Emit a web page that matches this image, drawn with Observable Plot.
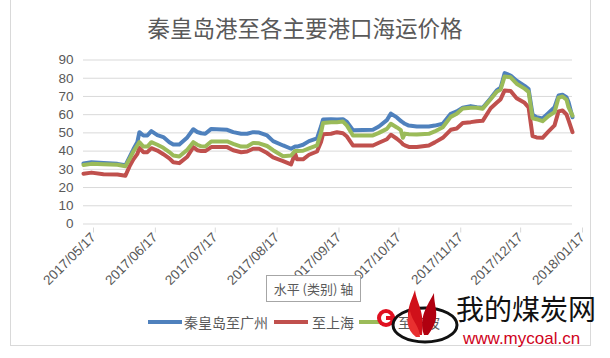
<!DOCTYPE html>
<html>
<head>
<meta charset="utf-8">
<script src="https://cdn.jsdelivr.net/npm/d3@7"></script>
<script src="https://cdn.jsdelivr.net/npm/@observablehq/plot@0.6"></script>
<style>
  html, body { margin: 0; padding: 0; background: #fff; }
  #wrap { position: relative; width: 610px; height: 358px; overflow: hidden; background: #fff;
          font-family: "Liberation Sans", Arial, "Noto Sans CJK SC", sans-serif; }
  #frame { position: absolute; left: 10px; top: -1px; width: 579px; height: 345px; border: 1px solid #d9d9d9; }
  #title { position: absolute; left: 10px; width: 590px; top: 12px; text-align: center;
           font-family: "Noto Sans CJK SC", sans-serif; font-size: 22.5px; color: #595959; line-height: 30px; }
  #plot { position: absolute; left: 0; top: 0; }
  .leg { position: absolute; top: 313px; height: 18px; font-family: "Noto Sans CJK SC", sans-serif;
         font-size: 14px; color: #595959; line-height: 18px; white-space: nowrap; }
  .sw { position: absolute; height: 4px; top: 320px; }
  #tip { position: absolute; left: 266px; top: 275px; width: 93px; height: 25px; border: 1px solid #a6a6a6;
         background: #fff; font-family: "Noto Sans CJK SC", sans-serif; font-size: 13px; color: #595959;
         text-align: center; line-height: 25px; }
  #wm1 { position: absolute; left: 456px; top: 294px; font-family: "Noto Sans CJK SC", sans-serif;
         font-size: 28px; color: #111; line-height: 28px; height: 28px; white-space: nowrap; }
  #wm2 { position: absolute; left: 463px; top: 331px; font-family: "Liberation Sans", Arial, sans-serif;
         font-size: 17px; color: #d0021b; line-height: 15px; height: 15px; white-space: nowrap; }
  #logo { position: absolute; left: 370px; top: 285px; }
</style>
</head>
<body>
<div id="wrap">
  <div id="frame"></div>
  <div id="title"></div>
  <div id="plot"></div>
  <div id="legend"></div>
  <div id="tip">水平 (类别) 轴</div>
  <svg id="logo" width="90" height="65" viewBox="0 0 90 65">
    <circle cx="16" cy="33" r="9" fill="#e01020"/>
    <circle cx="16" cy="33" r="5" fill="#fff"/>
    <rect x="16" y="31" width="9" height="4" fill="#e01020"/>
    <ellipse cx="55" cy="40" rx="32" ry="17" fill="none" stroke="#111" stroke-width="3"/>
    <path d="M50 50 C30 35 40 20 45 5 C47 20 55 25 52 50 Z" fill="#d0101a"/>
    <path d="M54 50 C48 32 58 20 64 8 C64 24 72 32 58 50 Z" fill="#b00010"/>
    <path d="M46 52 C36 44 36 34 40 26 C42 36 50 42 50 52 Z" fill="#e83030"/>
  </svg>
  <div id="wm1">我的煤炭网</div>
  <div id="wm2">www.mycoal.cn</div>
</div>
<script>
const titleText = "秦皇岛港至各主要港口海运价格";
const seriesNames = ["秦皇岛至广州", "至上海", "至宁波"];
const seriesColors = ["#4F81BD", "#C0504D", "#9BBB59"];
const tickLabels = ["2017/05/17","2017/06/17","2017/07/17","2017/08/17","2017/09/17","2017/10/17","2017/11/17","2017/12/17","2018/01/17"];
const yTicks = [0,10,20,30,40,50,60,70,80,90];

const dates = ["2017-05-17","2017-05-21","2017-05-27","2017-06-03","2017-06-07","2017-06-09","2017-06-11","2017-06-13","2017-06-14","2017-06-16",
"2017-06-18","2017-06-20","2017-06-23","2017-06-26","2017-06-29","2017-07-01","2017-07-04","2017-07-08","2017-07-11","2017-07-13",
"2017-07-15","2017-07-17","2017-07-20","2017-07-28","2017-07-31","2017-08-04","2017-08-07","2017-08-10","2017-08-13","2017-08-17",
"2017-08-20","2017-08-25","2017-08-29","2017-08-31","2017-09-01","2017-09-04","2017-09-07","2017-09-11","2017-09-13","2017-09-14",
"2017-09-18","2017-09-21","2017-09-24","2017-09-26","2017-09-29","2017-10-09","2017-10-12","2017-10-16","2017-10-18","2017-10-21",
"2017-10-23","2017-10-24","2017-10-25","2017-10-27","2017-10-31","2017-11-06","2017-11-09","2017-11-13","2017-11-17","2017-11-20",
"2017-11-23","2017-11-27","2017-11-30","2017-12-03","2017-12-07","2017-12-10","2017-12-12","2017-12-14","2017-12-17","2017-12-20",
"2017-12-24","2017-12-26","2017-12-28","2017-12-30","2018-01-02","2018-01-05","2018-01-08","2018-01-10","2018-01-12","2018-01-14",
"2018-01-15","2018-01-17"];

const guangzhou = [33.2,33.9,33.5,33.0,32.2,36.5,41.0,45.0,50.4,48.6,
48.6,51.0,48.8,47.7,44.9,43.6,43.6,47.5,52.0,50.5,
49.8,49.5,52.2,51.7,50.4,49.5,49.5,50.4,50.2,48.6,
45.5,43.1,41.3,42.5,42.5,43.5,45.5,47.0,53.5,57.3,
57.5,57.3,57.5,56.0,51.5,51.7,53.5,57.0,60.6,58.5,
56.5,55.8,55.0,54.0,53.5,53.5,54.0,55.0,60.5,61.8,
63.8,64.7,64.1,63.8,69.0,73.3,74.8,82.8,81.5,78.6,
75.8,74.0,60.0,58.6,57.9,61.0,64.1,70.5,70.9,69.6,
67.0,58.6];

const shanghai = [27.6,28.2,27.3,27.2,26.5,31.5,35.5,38.5,41.8,39.4,
39.4,41.6,40.3,38.3,36.0,33.9,33.4,36.9,42.2,40.5,
40.0,40.0,42.2,42.2,40.5,39.4,39.8,41.3,41.3,38.9,
36.5,34.5,32.7,38.7,35.5,35.5,38.0,39.8,45.0,49.3,
49.5,50.4,49.8,48.0,43.1,43.1,44.6,46.5,49.0,46.8,
45.0,43.8,43.2,42.3,42.2,43.1,44.8,47.3,51.7,52.4,
55.4,55.9,56.4,56.6,63.5,66.5,68.5,73.3,73.0,69.0,
66.5,64.0,48.2,47.5,47.3,50.8,54.1,61.8,62.3,60.1,
57.0,50.4];

const ningbo = [32.4,33.0,32.8,32.5,31.7,35.5,39.8,43.2,44.9,42.5,
42.5,44.9,43.5,41.8,39.5,37.6,37.0,40.8,44.9,43.5,
42.6,42.5,45.3,45.3,44.0,42.5,42.5,44.5,44.3,42.8,
40.5,37.2,37.6,40.1,40.1,40.2,41.5,43.1,50.0,55.4,
55.9,55.9,56.2,54.0,48.6,48.6,50.0,52.2,55.0,53.0,
51.5,47.3,49.6,49.3,49.1,49.5,50.8,53.1,58.8,60.5,
63.4,63.8,63.8,63.3,68.5,72.5,73.8,81.0,80.5,77.0,
74.3,72.5,58.0,57.5,56.4,59.3,61.4,69.3,70.0,68.2,
64.1,59.5];

const parseDate = d3.utcParse("%Y-%m-%d");
const X = dates.map(parseDate);
const tickDates = tickLabels.map(s => d3.utcParse("%Y/%m/%d")(s));
const valueSets = [guangzhou, shanghai, ningbo];
const rows = valueSets.map(vals => vals.map((v, i) => ({date: X[i], value: v})));

document.getElementById("title").textContent = titleText;

const chart = Plot.plot({
  width: 610,
  height: 358,
  marginLeft: 83,
  marginRight: 38,
  marginTop: 59.5,
  marginBottom: 134.5,
  style: {fontFamily: "'Liberation Sans', Arial, sans-serif", fontSize: "13.5px", background: "transparent", overflow: "visible"},
  x: {type: "utc", domain: [tickDates[0], tickDates[tickDates.length - 1]]},
  y: {domain: [0, 90]},
  marks: [
    Plot.gridY(yTicks, {stroke: "#d9d9d9", strokeOpacity: 1, strokeWidth: 1}),
    Plot.axisY(yTicks, {tickSize: 0, tickPadding: 10, fill: "#595959", fontSize: 13.5, label: null}),
    Plot.axisX(tickDates, {tickSize: 5, stroke: "#d9d9d9", fill: "#595959", tickRotate: -45, fontSize: 13.5,
      tickFormat: d3.utcFormat("%Y/%m/%d"), tickPadding: 2, label: null, dx: 10, dy: 4}),
    Plot.line(rows[0], {x: "date", y: "value", stroke: seriesColors[0], strokeWidth: 4, strokeLinejoin: "round"}),
    Plot.line(rows[1], {x: "date", y: "value", stroke: seriesColors[1], strokeWidth: 4, strokeLinejoin: "round"}),
    Plot.line(rows[2], {x: "date", y: "value", stroke: seriesColors[2], strokeWidth: 4, strokeLinejoin: "round"})
  ]
});
document.getElementById("plot").appendChild(chart);

// legend
const legend = document.getElementById("legend");
const legPos = [[148, 184], [274, 312], [359, 398]];
seriesNames.forEach((name, i) => {
  const sw = document.createElement("div");
  sw.className = "sw";
  sw.style.left = legPos[i][0] + "px";
  sw.style.width = "34px";
  sw.style.background = seriesColors[i];
  legend.appendChild(sw);
  const t = document.createElement("div");
  t.className = "leg";
  t.style.left = legPos[i][1] + "px";
  t.textContent = name;
  legend.appendChild(t);
});
</script>
</body>
</html>
